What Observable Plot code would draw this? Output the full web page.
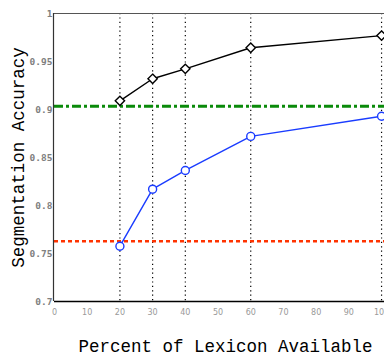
<!DOCTYPE html>
<html><head><meta charset="utf-8">
<script src="https://cdn.jsdelivr.net/npm/d3@7"></script>
<script src="https://cdn.jsdelivr.net/npm/@observablehq/plot@0.6"></script>
<style>body{margin:0;background:#fff}</style>
</head><body><div id="chart"></div>
<script>
const percents = [20, 30, 40, 60, 100];
const withLexicon = [0.909, 0.932, 0.9424, 0.9643, 0.977];
const withoutPrior = [0.7576, 0.817, 0.8365, 0.872, 0.893];
const upperBaseline = 0.9035;
const lowerBaseline = 0.7628;
const yTicks = [0.7, 0.75, 0.8, 0.85, 0.9, 0.95, 1];
const yTickLabels = ["0.7", "0.75", "0.8", "0.85", "0.9", "0.95", "1"];
const xTicks = [0, 10, 20, 30, 40, 50, 60, 70, 80, 90, 100];
const xTitle = "Percent of Lexicon Available";
const yTitle = "Segmentation Accuracy";

const black = percents.map((p, i) => ({x: p, y: withLexicon[i]}));
const blue = percents.map((p, i) => ({x: p, y: withoutPrior[i]}));

const chart = Plot.plot({
  width: 384,
  height: 357,
  marginTop: 13,
  marginBottom: 56,
  marginLeft: 54,
  marginRight: 0,
  x: {domain: [0, 100.9]},
  y: {domain: [0.7, 1]},
  style: {background: "#fff"},
  marks: [
    Plot.axisY({ticks: yTicks, tickSize: 0, tickPadding: 2, label: null,
      tickFormat: d => yTickLabels[yTicks.indexOf(d)],
      fontFamily: "DejaVu Sans Mono", fontSize: 9.5, fontWeight: "bold", fill: "#808080"}),
    Plot.axisX({ticks: xTicks, tickSize: 0, tickPadding: 8, label: null,
      fontFamily: "DejaVu Sans", fontSize: 8, fill: "#999"}),
    Plot.ruleX(percents, {stroke: "#000", strokeWidth: 1.2, strokeDasharray: "1.2,3.2"}),
    Plot.ruleY([upperBaseline], {stroke: "#0a8a0a", strokeWidth: 3, strokeDasharray: "9,3,3,3"}),
    Plot.ruleY([lowerBaseline], {stroke: "#ff3300", strokeWidth: 2.5, strokeDasharray: "4,3"}),
    Plot.ruleY([1], {stroke: "#555", strokeWidth: 1.2}),
    Plot.ruleY([0.7], {stroke: "#000", strokeWidth: 1.5}),
    Plot.ruleX([0], {dx: -1, stroke: "#333", strokeWidth: 1.2}),
    Plot.line(black, {x: "x", y: "y", stroke: "#000", strokeWidth: 1.4}),
    Plot.dot(black, {x: "x", y: "y", symbol: "diamond2", r: 4.2, fill: "#fff", stroke: "#000", strokeWidth: 1.4}),
    Plot.line(blue, {x: "x", y: "y", stroke: "#1a3cff", strokeWidth: 1.4}),
    Plot.dot(blue, {x: "x", y: "y", symbol: "circle", r: 4, fill: "#fff", stroke: "#1a3cff", strokeWidth: 1.4}),
    Plot.text([xTitle], {frameAnchor: "bottom", dy: 50, dx: 6, textAnchor: "middle", fontFamily: "Liberation Mono", fontSize: 17.5, fill: "#000"}),
    Plot.text([yTitle], {frameAnchor: "left", dx: -36, rotate: -90, textAnchor: "middle", fontFamily: "Liberation Mono", fontSize: 17.5, fill: "#000"})
  ]
});
document.getElementById("chart").appendChild(chart);
</script>
</body></html>
